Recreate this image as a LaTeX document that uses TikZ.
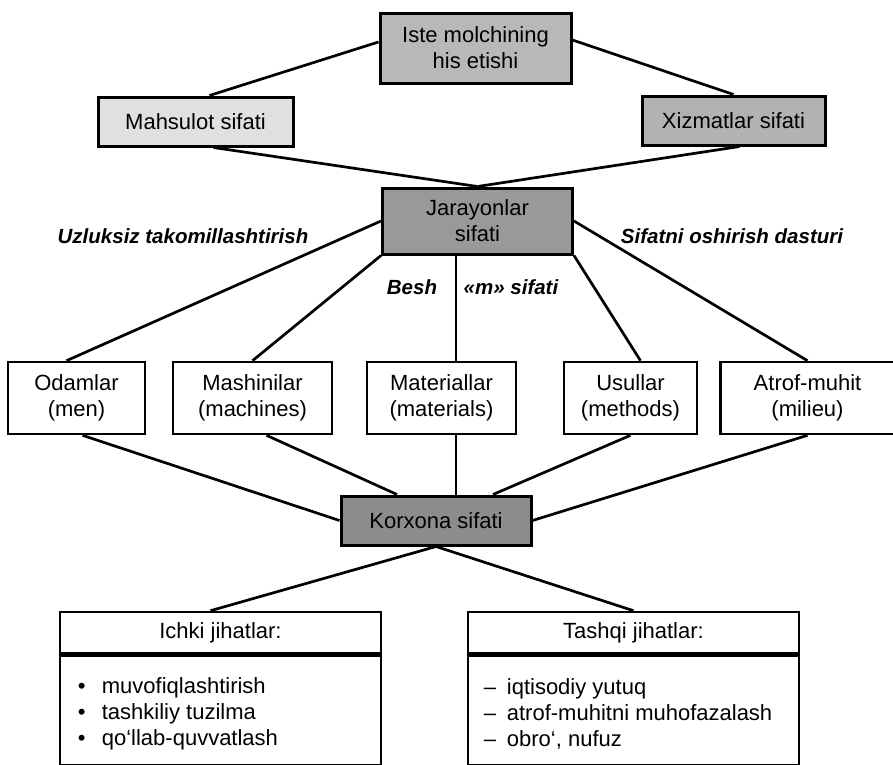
\documentclass[tikz,border=0pt]{standalone}
\usepackage{fontspec}
\setmainfont{Liberation Sans}
\usetikzlibrary{positioning}
\begin{document}
\begin{tikzpicture}[x=1pt, y=-1pt,
		every node/.style={font=\fontsize{22}{26}\selectfont},
		shadebox/.style={draw, line width=3pt, align=center, inner sep=0pt},
		plainbox/.style={draw, line width=2.6pt, align=center, inner sep=0pt},
		link/.style={line width=2.7pt},
		tag/.style={font=\fontsize{20.5}{26}\selectfont\bfseries\itshape}]
		\useasboundingbox (0,0) rectangle (893,764);
		\node [shadebox, fill=black!28, minimum width=191, minimum height=70] (user) at (475.5,48) {Iste molchining\\his etishi};
		\node [shadebox, fill=black!12, minimum width=195, minimum height=49] (prod) at (195.5,121.5) {Mahsulot sifati};
		\node [shadebox, fill=black!30, minimum width=183, minimum height=49] (serv) at (733.5,120.5) {Xizmatlar sifati};
		\node [shadebox, fill=black!40, minimum width=190, minimum height=66] (proc) at (477.5,221) {Jarayonlar\\sifati};
		\foreach \nm/\x/\w/\txt in {men/76.5/137/{Odamlar\\(men)}, mach/252.5/159/{Mashinilar\\(machines)},
				mat/441.5/149/{Materiallar\\(materials)}, meth/630.5/133/{Usullar\\(methods)},
				env/807.5/174/{Atrof-muhit\\(milieu)}} {
			\node [plainbox, minimum width=\w, minimum height=72] (\nm) at (\x,398) {\txt};
		}
		\node [shadebox, fill=black!45, minimum width=190, minimum height=49] (firm) at (436,520.5) {Korxona sifati};
		\node [tag] (cont) at (183,236) {Uzluksiz takomillashtirish};
		\node [tag] (prog) at (732,236) {Sifatni oshirish dasturi};
		\node [tag] (five) at (412,287) {Besh};
		\node [tag] (fivem) at (511,287) {«m» sifati};
		% ichki va tashqi jihatlar
		\node [plainbox, minimum width=321, minimum height=41] (inhead) at (220.5,632.5) {Ichki jihatlar:};
		\node [plainbox, minimum width=321, minimum height=110, below=0pt of inhead] (inbody) {};
		\node [anchor=west, align=left, inner sep=0pt] (inlist) at ([xshift=19pt,yshift=-3pt]inbody.west) {\makebox[24pt][l]{•}muvofiqlashtirish\\\makebox[24pt][l]{•}tashkiliy tuzilma\\\makebox[24pt][l]{•}qo‘llab-quvvatlash};
		\node [plainbox, minimum width=331, minimum height=41] (outhead) at (633.5,632.5) {Tashqi jihatlar:};
		\node [plainbox, minimum width=331, minimum height=110, below=0pt of outhead] (outbody) {};
		\node [anchor=west, align=left, inner sep=0pt] (outlist) at ([xshift=17pt,yshift=-3pt]outbody.west) {\makebox[23pt][l]{–}iqtisodiy yutuq\\\makebox[23pt][l]{–}atrof-muhitni muhofazalash\\\makebox[23pt][l]{–}obro‘, nufuz};
		\coordinate (mline) at (456,0);
		\draw [link] ([yshift=6pt]user.west) -- ([xshift=14pt]prod.north);
		\draw [link] ([yshift=8pt]user.east) -- (serv.north);
		\draw [link] ([xshift=18pt]prod.south) -- (proc.north);
		\draw [link] ([xshift=6pt]serv.south) -- (proc.north);
		\draw [link] (proc.west) -- ([xshift=-10pt]men.north);
		\draw [link] (proc.south west) -- (mach.north);
		\draw [link] (proc.south -| mline) -- (mat.north -| mline);
		\draw [link] (proc.south east) -- ([xshift=10pt]meth.north);
		\draw [link] (proc.east) -- (env.north);
		\draw [link] ([xshift=6pt]men.south) -- (firm.west);
		\draw [link] ([xshift=14pt]mach.south) -- ([xshift=-39pt]firm.north);
		\draw [link] (mat.south -| mline) -- (firm.north -| mline);
		\draw [link] (meth.south) -- ([xshift=57pt]firm.north);
		\draw [link] (env.south) -- (firm.east);
		\draw [link] (firm.south) -- ([xshift=-10pt]inhead.north);
		\draw [link] (firm.south) -- (outhead.north);
\end{tikzpicture}
\end{document}
